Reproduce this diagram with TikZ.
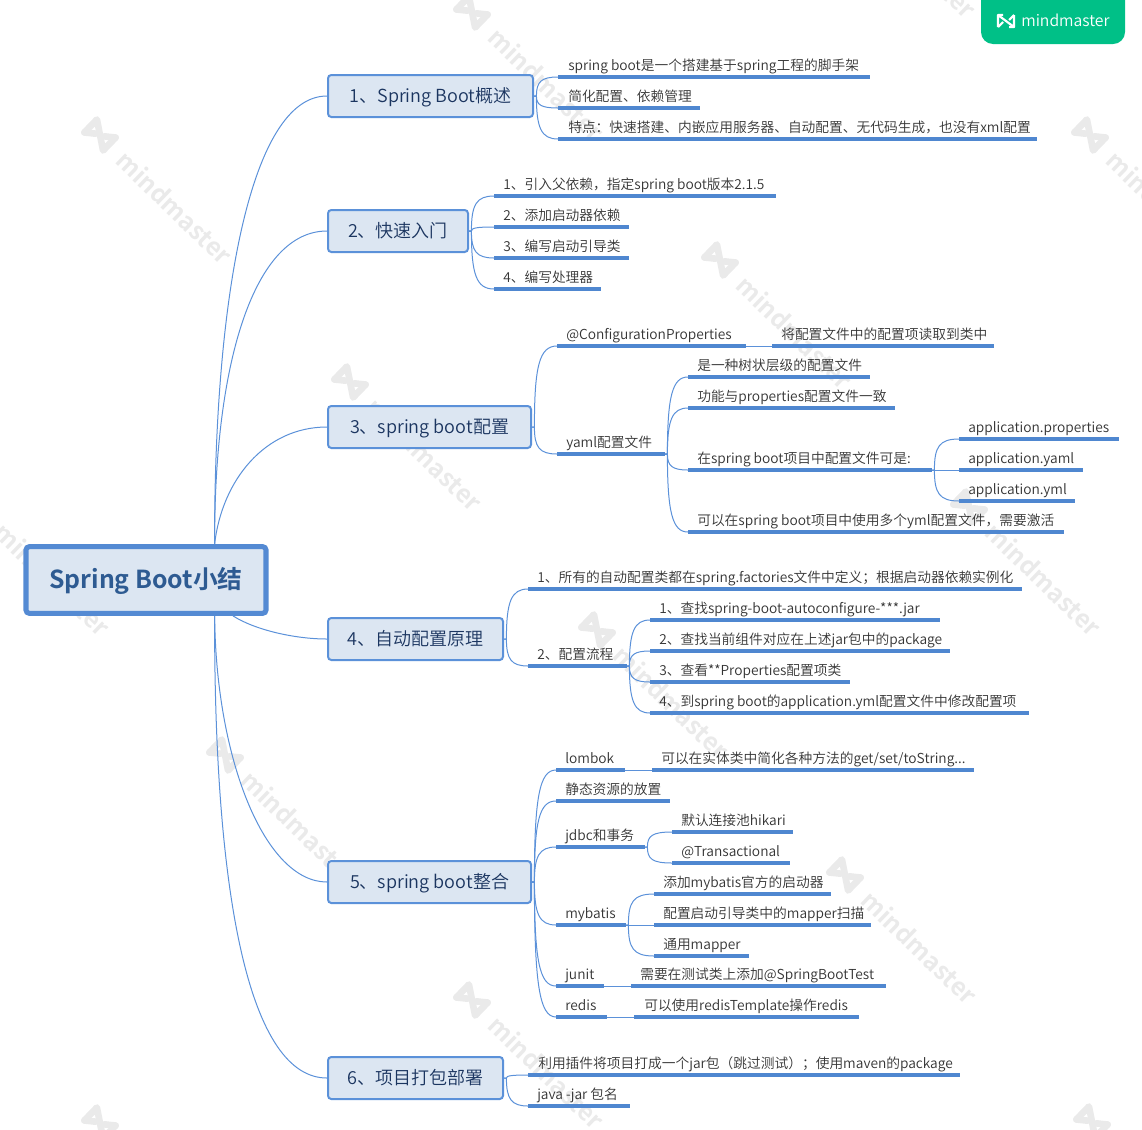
\documentclass[tikz,border=0pt]{standalone}
\usepackage{fontspec}
\setmainfont[UprightFont=Noto Sans CJK SC DemiLight,BoldFont=Noto Sans CJK SC Bold]{Noto Sans CJK SC}
\usetikzlibrary{calc}
\definecolor{linec}{HTML}{5B91D9}
\definecolor{ulc}{HTML}{4F87D0}
\definecolor{boxf}{HTML}{DCE6F2}
\definecolor{rootb}{HTML}{548AD3}
\definecolor{wm}{HTML}{EAEAEA}
\definecolor{brand}{HTML}{00C087}
\definecolor{topict}{HTML}{1B3560}
\definecolor{roott}{HTML}{2E5B92}
\tikzset{
  x=0.75pt,y=-0.75pt,
  conn/.style={draw=linec,line width=0.75pt},
  underl/.style={draw=ulc,line width=3pt},
  leaf/.style={inner sep=0pt,anchor=base west,text=black!80,font=\fontsize{10.3}{12}\selectfont},
  topic/.style={draw=linec,fill=boxf,line width=1.5pt,rounded corners=2.5pt,inner sep=0pt,text=topict,font=\fontsize{13.5}{16}\selectfont},
  rootbox/.style={draw=rootb,fill=boxf,line width=3.8pt,rounded corners=2.5pt,inner sep=0pt,text=roott,font=\fontsize{18.6}{22}\bfseries\selectfont},
  wmtext/.style={inner sep=0pt,anchor=west,text=wm,rotate=-44,font=\fontsize{18.6}{20}\bfseries\selectfont},
}
% \topicnode{name}{x1}{y1}{x2}{y2}{text}
\newcommand{\topicnode}[6]{%
  \node[topic,minimum width=#4*0.75pt-#2*0.75pt,minimum height=#5*0.75pt-#3*0.75pt] (#1) at ({(#2+#4)/2},{(#3+#5)/2}) {\raisebox{-5.2pt}[0pt][0pt]{#6}};}
% \leafnode{name}{x1}{x2}{y}{textx}{text}
\newcommand{\leafnode}[6]{%
  \coordinate (#1-l) at (#2,#4);
  \coordinate (#1-r) at (#3,#4);
  \draw[underl] (#1-l) -- (#1-r);
  \node[leaf] (#1) at (#5,#4-7) {#6};}
% curved connector: \cnc{from}{to}
\newcommand{\cnc}[2]{%
  \draw[conn] let \p1=(#1),\p2=(#2) in (\p1) -- (\x1+1.8pt,\y1) .. controls (\x1+1.8pt,{\y1+0.75*(\y2-\y1)}) and (\x1+5.5pt,\y2) .. (\p2);}
% watermark
\newcommand{\wmark}[3]{%
  \begin{scope}[shift={(#2,#3)},rotate=-44]
    \draw[wm,line width=5pt,line join=round,line cap=round] (-13,9) -- (-13,-9) -- (13,9) -- (13,-9);
    \draw[wm,line width=5pt,line cap=round] (-13,9) -- (-4,2) (13,-9) -- (4,-2);
    \node[wmtext] (#1) at (29,0) {mindmaster};
  \end{scope}}
\begin{document}
\begin{tikzpicture}
\useasboundingbox (0,0) rectangle (1142,1129);
\begin{scope}
\clip (0,0) rectangle (1142,1129);
\wmark{w1}{100}{135}
\wmark{w2}{472}{12}
\wmark{w3}{1090}{135}
\wmark{w4}{720}{260}
\wmark{w5}{350}{382}
\wmark{w6}{-22}{507}
\wmark{w7}{597}{630}
\wmark{w8}{225}{755}
\wmark{w9}{845}{875}
\wmark{w10}{472}{1000}
\wmark{w11}{100}{1123}
\wmark{w12}{1092}{1122}
\wmark{w13}{969}{507}
\wmark{w14}{844}{-111}
\end{scope}
% brand tab
\fill[brand,rounded corners=9pt] (981,-20) rectangle (1125,44);
\begin{scope}[shift={(1006,21)}]
  \draw[white,line width=1.6pt,line join=round] (-8,6) -- (-8,-6) -- (8,6) -- (8,-6);
  \draw[white,line width=1.6pt] (-8,-6) -- (-3,-6) (8,6) -- (3,6) (-8,6) -- (-3,1) (8,-6) -- (3,-1);
\end{scope}
\node[inner sep=0pt,anchor=base west,text=white,font=\fontsize{11.8}{14}\selectfont] (brandt) at (1021,26) {mindmaster};
% root and topics
\topicnode{b1}{328}{75}{533}{117}{1、Spring Boot概述}
\topicnode{b2}{328}{210}{468}{252}{2、快速入门}
\topicnode{b3}{328}{406}{531}{448}{3、spring boot配置}
\topicnode{b4}{328}{618}{503}{660}{4、自动配置原理}
\topicnode{b5}{328}{861}{531}{903}{5、spring boot整合}
\topicnode{b6}{328}{1057}{503}{1099}{6、项目打包部署}
\node[rootbox,minimum width=180pt,minimum height=50pt] (root) at (146,580) {\raisebox{-6.4pt}[0pt][0pt]{Spring Boot小结}};
\coordinate (rt) at ($(root.north west)!0.78!(root.north east)$);
\coordinate (rb) at ($(root.south west)!0.78!(root.south east)$);
\coordinate (rb4) at ($(root.south west)!0.855!(root.south east)$);
\draw[conn] (rt) .. controls (214,300) and (250,96) .. (b1.west);
\draw[conn] (rt) .. controls (214,360) and (255,231) .. (b2.west);
\draw[conn] (rt) .. controls (222,480) and (265,427) .. (b3.west);
\draw[conn] (rb4) .. controls (255,630) and (295,639) .. (b4.west);
\draw[conn] (rb) .. controls (216,760) and (265,882) .. (b5.west);
\draw[conn] (rb) .. controls (214,900) and (250,1078) .. (b6.west);
% branch 1
\leafnode{a1}{558}{870}{77}{568}{spring boot是一个搭建基于spring工程的脚手架}
\leafnode{a2}{558}{700}{108}{568}{简化配置、依赖管理}
\leafnode{a3}{558}{1037}{139}{568}{特点：快速搭建、内嵌应用服务器、自动配置、无代码生成，也没有xml配置}
\cnc{b1.east}{a1-l}\cnc{b1.east}{a2-l}\cnc{b1.east}{a3-l}
% branch 2
\leafnode{c1}{494}{776}{196}{503}{1、引入父依赖，指定spring boot版本2.1.5}
\leafnode{c2}{494}{629}{227}{503}{2、添加启动器依赖}
\leafnode{c3}{494}{629}{258}{503}{3、编写启动引导类}
\leafnode{c4}{494}{601}{289}{503}{4、编写处理器}
\cnc{b2.east}{c1-l}\cnc{b2.east}{c2-l}\cnc{b2.east}{c3-l}\cnc{b2.east}{c4-l}
% branch 3
\leafnode{d1}{557}{746}{346}{566}{@ConfigurationProperties}
\leafnode{d1a}{772}{994}{346}{781}{将配置文件中的配置项读取到类中}
\draw[conn] (d1-r) -- (d1a-l);
\leafnode{d2}{557}{665}{454}{566}{yaml配置文件}
\cnc{b3.east}{d1-l}\cnc{b3.east}{d2-l}
\leafnode{e1}{688}{870}{377}{697}{是一种树状层级的配置文件}
\leafnode{e2}{688}{895}{408}{697}{功能与properties配置文件一致}
\leafnode{e3}{688}{932}{470}{697}{在spring boot项目中配置文件可是:}
\leafnode{e4}{688}{1064}{532}{697}{可以在spring boot项目中使用多个yml配置文件，需要激活}
\cnc{d2-r}{e1-l}\cnc{d2-r}{e2-l}\cnc{d2-r}{e3-l}\cnc{d2-r}{e4-l}
\leafnode{f1}{959}{1119}{439}{968}{application.properties}
\leafnode{f2}{959}{1083}{470}{968}{application.yaml}
\leafnode{f3}{959}{1075}{501}{968}{application.yml}
\cnc{e3-r}{f1-l}\cnc{e3-r}{f2-l}\cnc{e3-r}{f3-l}
% branch 4
\leafnode{g1}{528}{1022}{589}{537}{1、所有的自动配置类都在spring.factories文件中定义；根据启动器依赖实例化}
\leafnode{g2}{528}{627}{666}{537}{2、配置流程}
\cnc{b4.east}{g1-l}\cnc{b4.east}{g2-l}
\leafnode{h1}{650}{940}{620}{659}{1、查找spring-boot-autoconfigure-***.jar}
\leafnode{h2}{650}{950}{651}{659}{2、查找当前组件对应在上述jar包中的package}
\leafnode{h3}{650}{850}{682}{659}{3、查看**Properties配置项类}
\leafnode{h4}{650}{1029}{713}{659}{4、到spring boot的application.yml配置文件中修改配置项}
\cnc{g2-r}{h1-l}\cnc{g2-r}{h2-l}\cnc{g2-r}{h3-l}\cnc{g2-r}{h4-l}
% branch 5
\leafnode{i1}{556}{625}{770}{565}{lombok}
\leafnode{i1a}{652}{974}{770}{661}{可以在实体类中简化各种方法的get/set/toString...}
\draw[conn] (i1-r) -- (i1a-l);
\leafnode{i2}{556}{670}{801}{565}{静态资源的放置}
\leafnode{i3}{556}{645}{847}{565}{jdbc和事务}
\leafnode{j1}{672}{793}{832}{681}{默认连接池hikari}
\leafnode{j2}{672}{790}{863}{681}{@Transactional}
\cnc{i3-r}{j1-l}\cnc{i3-r}{j2-l}
\leafnode{i4}{556}{626}{925}{565}{mybatis}
\leafnode{k1}{654}{831}{894}{663}{添加mybatis官方的启动器}
\leafnode{k2}{654}{871}{925}{663}{配置启动引导类中的mapper扫描}
\leafnode{k3}{654}{749}{956}{663}{通用mapper}
\cnc{i4-r}{k1-l}\cnc{i4-r}{k2-l}\cnc{i4-r}{k3-l}
\leafnode{i5}{556}{604}{986}{565}{junit}
\leafnode{i5a}{631}{886}{986}{640}{需要在测试类上添加@SpringBootTest}
\draw[conn] (i5-r) -- (i5a-l);
\leafnode{i6}{556}{607}{1017}{565}{redis}
\leafnode{i6a}{634}{859}{1017}{644}{可以使用redisTemplate操作redis}
\draw[conn] (i6-r) -- (i6a-l);
\cnc{b5.east}{i1-l}\cnc{b5.east}{i2-l}\cnc{b5.east}{i3-l}\cnc{b5.east}{i4-l}\cnc{b5.east}{i5-l}\cnc{b5.east}{i6-l}
% branch 6
\leafnode{m1}{528}{960}{1075}{538}{利用插件将项目打成一个jar包（跳过测试）；使用maven的package}
\leafnode{m2}{528}{630}{1106}{537}{java -jar 包名}
\cnc{b6.east}{m1-l}\cnc{b6.east}{m2-l}
\end{tikzpicture}
\end{document}
